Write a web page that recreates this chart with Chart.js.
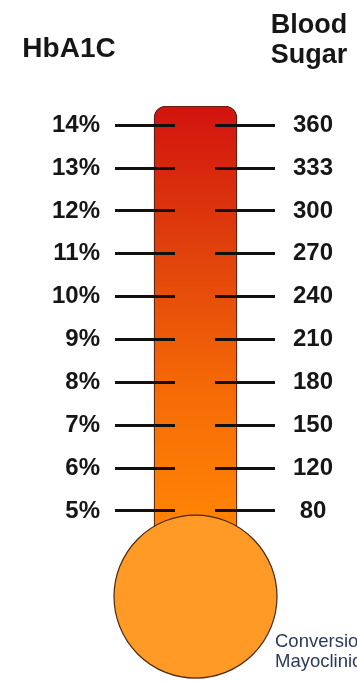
<!DOCTYPE html>
<html>
<head>
<meta charset="utf-8">
<title>HbA1C and Blood Sugar</title>
<script src="https://cdn.jsdelivr.net/npm/chart.js@4/dist/chart.umd.min.js"></script>
<style>
  html, body { margin: 0; padding: 0; background: #ffffff; }
  canvas { display: block; }
</style>
</head>
<body>
<canvas id="thermo" width="357" height="681"></canvas>
<script>
// HbA1C levels (left scale) and the matching average blood sugar (right scale)
const hba1c = [5, 6, 7, 8, 9, 10, 11, 12, 13, 14];
const bloodSugar = [80, 120, 150, 180, 210, 240, 270, 300, 333, 360];
const hba1cLabels = ['5%', '6%', '7%', '8%', '9%', '10%', '11%', '12%', '13%', '14%'];

// Thermometer: bulb centre and tube top, in HbA1C units
const bulbLevel = [3.0];
const tubeTop = [14.45];

const axisMin = 1.1;
const axisMax = 14.45;

const FONT = "'Liberation Sans', Arial, Helvetica, sans-serif";
const INK = '#161616';

function tubeFill(context) {
  const chart = context.chart;
  const area = chart.chartArea;
  if (!area) return '#e8500a';
  const y = chart.scales.y;
  const g = chart.ctx.createLinearGradient(0, area.top, 0, y.getPixelForValue(5));
  g.addColorStop(0, '#d2130f');
  g.addColorStop(0.35, '#e0400c');
  g.addColorStop(0.7, '#f56a06');
  g.addColorStop(1, '#ff8205');
  return g;
}

// Fixed-width side axes without the extra label overhang at the ends
function fixSide(width) {
  return function (scale) {
    scale.width = width;
    scale.paddingTop = 0;
    scale.paddingBottom = 0;
  };
}

// Column headings and the source note
const headings = {
  id: 'headings',
  afterDraw(chart) {
    const c = chart.ctx;
    c.save();
    c.fillStyle = INK;
    c.textAlign = 'center';
    c.textBaseline = 'alphabetic';
    c.font = 'bold 28px ' + FONT;
    c.fillText('HbA1C', 69, 57);
    c.font = 'bold 27px ' + FONT;
    c.fillText('Blood', 309, 33);
    c.fillText('Sugar', 309, 63);
    c.textAlign = 'left';
    c.fillStyle = '#2b3a5c';
    c.font = '18.5px ' + FONT;
    c.fillText('Conversion', 275, 647);
    c.fillText('Mayoclinic.com', 275, 667);
    c.restore();
  }
};

new Chart(document.getElementById('thermo'), {
  type: 'bar',
  data: {
    labels: [''],
    datasets: [
      {
        type: 'line',
        label: 'bulb',
        data: bulbLevel,
        yAxisID: 'y',
        order: 0,
        showLine: false,
        pointRadius: 81.5,
        pointHoverRadius: 81.5,
        pointBackgroundColor: '#ff9a26',
        pointBorderColor: '#4a2a10',
        pointBorderWidth: 1.2,
        clip: false
      },
      {
        type: 'bar',
        label: 'tube',
        // floating bar: from the bulb centre up to the top of the tube
        data: bulbLevel.map((b, i) => [b, tubeTop[i]]),
        yAxisID: 'y',
        order: 1,
        barThickness: 83,
        backgroundColor: tubeFill,
        borderColor: '#4a2010',
        borderWidth: 1.2,
        borderSkipped: 'start',
        borderRadius: { topLeft: 12, topRight: 12, bottomLeft: 0, bottomRight: 0 }
      }
    ]
  },
  options: {
    responsive: false,
    devicePixelRatio: 1,
    animation: false,
    events: [],
    layout: { autoPadding: false, padding: { top: 106, bottom: 3, left: 0, right: 0 } },
    plugins: {
      legend: { display: false },
      tooltip: { enabled: false },
      title: { display: false }
    },
    scales: {
      x: {
        display: false,
        offset: true
      },
      y: {
        type: 'linear',
        position: 'left',
        min: axisMin,
        max: axisMax,
        afterBuildTicks(scale) {
          scale.ticks = hba1c.map(v => ({ value: v }));
        },
        afterFit: fixSide(115),
        ticks: {
          padding: 15,
          color: INK,
          font: { family: FONT, size: 24, weight: 'bold' },
          callback(value) {
            const i = hba1c.indexOf(value);
            return i >= 0 ? hba1cLabels[i] : '';
          }
        },
        grid: {
          display: true,
          drawOnChartArea: true,
          drawTicks: false,
          color: '#111111',
          lineWidth: 3,
          z: 1
        },
        border: { display: false, dash: [60, 40] }
      },
      y2: {
        type: 'linear',
        position: 'right',
        min: axisMin,
        max: axisMax,
        afterBuildTicks(scale) {
          scale.ticks = hba1c.map(v => ({ value: v }));
        },
        afterFit: fixSide(81),
        ticks: {
          padding: 9,
          crossAlign: 'center',
          color: INK,
          font: { family: FONT, size: 24, weight: 'bold' },
          callback(value) {
            const i = hba1c.indexOf(value);
            return i >= 0 ? String(bloodSugar[i]) : '';
          }
        },
        grid: { display: false },
        border: { display: false }
      }
    }
  },
  plugins: [headings]
});
</script>
</body>
</html>
